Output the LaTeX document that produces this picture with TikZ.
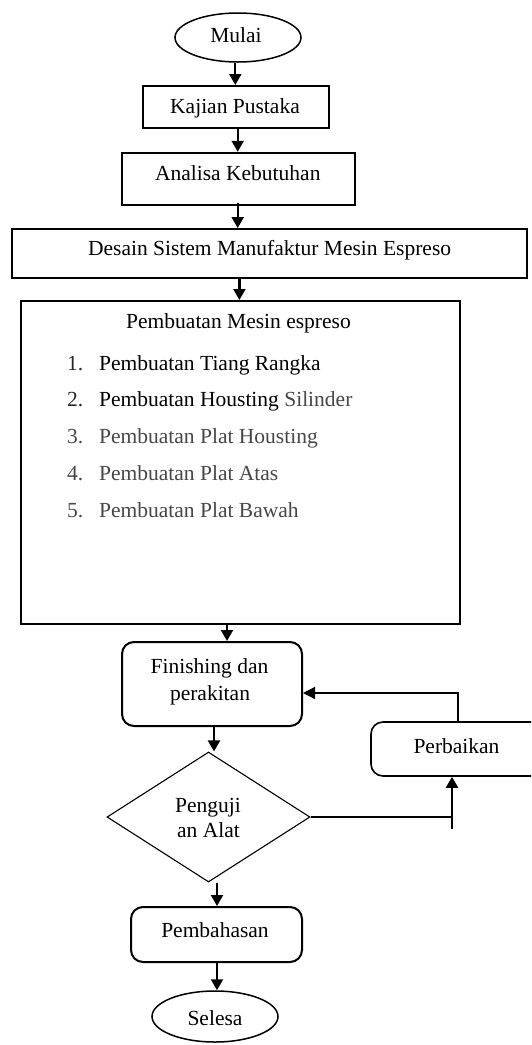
\documentclass[tikz,border=0pt]{standalone}
\usepackage{fontspec}
\setmainfont{Liberation Serif}
\usetikzlibrary{arrows.meta,shapes.geometric,calc}
\begin{document}
\begin{tikzpicture}[x=1pt,y=-1pt,
  box/.style={draw,line width=2pt,inner sep=0pt},
  rbox/.style={box,rounded corners=12pt},
  oval/.style={draw,ellipse,line width=1.5pt,inner sep=0pt},
  txt/.style={anchor=base,inner sep=0pt,font=\fontsize{21.5}{25}\selectfont},
  itm/.style={txt,anchor=base west},
  flow/.style={line width=2.2pt,-{Triangle[length=11pt,width=12pt]}},
  thinline/.style={line width=1.3pt},
  greytext/.style={text=black!72}
]
\clip (0,0) rectangle (531,1045);
\fill[white] (0,0) rectangle (531,1045);

% shapes
\node[oval,minimum width=126pt,minimum height=49pt] (mulai) at (238,37.5) {};
\node[box,minimum width=186pt,minimum height=42pt] (kajian) at (236.4,107) {};
\node[box,minimum width=233pt,minimum height=52pt] (analisa) at (238.2,178.8) {};
\node[box,minimum width=515pt,minimum height=49pt] (desain) at (269.5,253.5) {};
\node[box,minimum width=439pt,minimum height=323pt] (buat) at (240.5,462.5) {};
\node[rbox,minimum width=180pt,minimum height=84pt] (finish) at (212,684) {};
\node[rbox,line width=1.6pt,minimum width=180pt,minimum height=54pt] (perb) at (461,749) {};
\node[draw,diamond,line width=1.1pt,minimum width=203pt,minimum height=130pt,inner sep=0pt] (uji) at (208.5,817) {};
\node[rbox,minimum width=171pt,minimum height=55pt] (bahas) at (216.5,934.5) {};
\node[oval,minimum width=126pt,minimum height=51pt] (selesa) at (215,1016.5) {};

% texts
\node[txt] (tmulai) at (236,42) {Mulai};
\node[txt] (tkajian) at (235,113) {Kajian Pustaka};
\node[txt] (tanalisa) at (237.8,180) {Analisa Kebutuhan};
\node[txt] (tdesain) at (269.6,255) {Desain Sistem Manufaktur Mesin Espreso};
\node[txt] (tbuat) at (238.5,328) {Pembuatan Mesin espreso};
\node[itm,text=black!85] (n1) at (67,370) {1.};
\node[itm] (i1) at (99,370) {Pembuatan Tiang Rangka};
\node[itm,text=black!85] (n2) at (67,406.7) {2.};
\node[itm] (i2) at (99,406.7) {Pembuatan Housting \textcolor{black!72}{Silinder}};
\node[itm,greytext] (n3) at (67,443.5) {3.};
\node[itm,greytext] (i3) at (99,443.5) {Pembuatan Plat Housting};
\node[itm,greytext] (n4) at (67,480.3) {4.};
\node[itm,greytext] (i4) at (99,480.3) {Pembuatan Plat Atas};
\node[itm,greytext] (n5) at (67,517) {5.};
\node[itm,greytext] (i5) at (99,517) {Pembuatan Plat Bawah};
\node[txt] (tfin1) at (209.5,673) {Finishing dan};
\node[txt] (tfin2) at (210,700) {perakitan};
\node[txt] (tperb) at (456.5,753) {Perbaikan};
\node[txt] (tuji1) at (208,812) {Penguji};
\node[txt] (tuji2) at (208.5,837) {an Alat};
\node[txt] (tbahas) at (215,937) {Pembahasan};
\node[txt] (tselesa) at (215,1025) {Selesa};

% connector columns
\coordinate (a1) at (235.3,0);
\coordinate (a2) at (237.7,0);
\coordinate (a3) at (239.4,0);
\coordinate (a4) at (227,0);
\coordinate (a5) at (214,0);
\coordinate (a6) at (217,0);
\coordinate (fbx) at (458,0);
\coordinate (upx) at (452,0);
\coordinate (upbot) at (452,829);
\coordinate (finin) at ($(finish.east)+(0,9)$);

% connectors
\draw[flow] (mulai.south -| a1) -- (kajian.north -| a1);
\draw[flow] (kajian.south -| a2) -- (analisa.north -| a2);
\draw[flow] ($(analisa.south -| a2)+(0,-3)$) -- (desain.north -| a2);
\draw[flow] (desain.south -| a3) -- (buat.north -| a3);
\draw[flow] (buat.south -| a4) -- (finish.north -| a4);
\draw[flow] (finish.south -| a5) -- (uji.north -| a5);
\draw[flow] (uji.south -| a6) -- (bahas.north -| a6);
\draw[flow] (bahas.south -| a6) -- (selesa.north -| a6);
\draw[thinline,-{Triangle[length=12pt,width=12pt]}] (perb.north -| fbx) -- (finin -| fbx) -- (finin);
\draw[thinline] (uji.east) -- (uji.east -| upx);
\draw[flow] (upbot) -- (perb.south -| upx);
\end{tikzpicture}
\end{document}
